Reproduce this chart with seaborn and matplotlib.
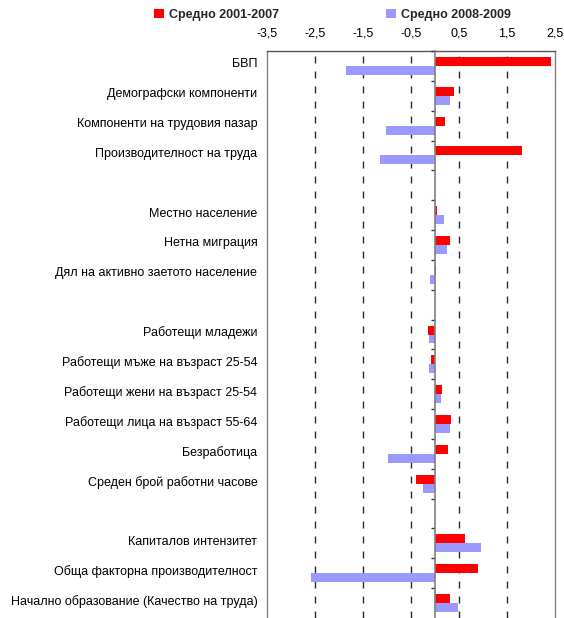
import matplotlib
matplotlib.use("Agg")
import matplotlib.pyplot as plt
import matplotlib.ticker as mticker
import matplotlib.transforms as mtransforms
from matplotlib.patches import Patch
import numpy as np
import pandas as pd
import seaborn as sns

sns.set_theme(style="white")
plt.rcParams["font.family"] = ["Liberation Sans", "DejaVu Sans"]

# Contributions to growth, average annual change (pp)
categories = [
    "БВП",
    "Демографски компоненти",
    "Компоненти на трудовия пазар",
    "Производителност на труда",
    " ",
    "Местно население",
    "Нетна миграция",
    "Дял на активно заетото население",
    "  ",
    "Работещи младежи",
    "Работещи мъже на възраст 25-54",
    "Работещи жени на възраст 25-54",
    "Работещи лица на възраст 55-64",
    "Безработица",
    "Среден брой работни часове",
    "   ",
    "Капиталов интензитет",
    "Обща факторна производителност",
    "Начално образование (Качество на труда)",
]
period_labels = ["Средно 2001-2007", "Средно 2008-2009"]
avg_2001_2007 = [2.41, 0.39, 0.20, 1.82, np.nan, 0.05, 0.32, 0.02, np.nan,
                 -0.14, -0.08, 0.15, 0.34, 0.28, -0.39, np.nan, 0.62, 0.89, 0.32]
avg_2008_2009 = [-1.85, 0.32, -1.02, -1.15, np.nan, 0.18, 0.24, -0.10, np.nan,
                 -0.12, -0.12, 0.13, 0.32, -0.98, -0.25, np.nan, 0.95, -2.58, 0.47]
x_ticks = [-3.5, -2.5, -1.5, -0.5, 0.5, 1.5, 2.5]
colors = ["#FF0000", "#9999FF"]

df = pd.DataFrame({
    "category": categories * 2,
    "period": [period_labels[0]] * len(categories) + [period_labels[1]] * len(categories),
    "value": avg_2001_2007 + avg_2008_2009,
})

fig = plt.figure(figsize=(5.64, 6.18), dpi=100)
ax = fig.add_axes([267 / 564, 0.0, (555 - 267) / 564, (618 - 51) / 618])

sns.barplot(data=df, y="category", x="value", hue="period", order=categories,
            hue_order=period_labels, palette=colors, orient="h", width=0.6,
            saturation=1, dodge=True, legend=False, ax=ax, linewidth=0)

ax.set_xlim(-3.5, 2.5)
ax.set_ylim(len(categories) - 0.5, -0.5)
ax.xaxis.tick_top()
ax.set_xticks(x_ticks)
ax.xaxis.set_major_formatter(mticker.FuncFormatter(lambda v, p: f"{v:.1f}".replace(".", ",")))
ax.tick_params(axis="x", length=0, pad=8, labelsize=9, colors="black")
ax.tick_params(axis="y", length=0, pad=7, labelsize=9, colors="black")
ax.set_xlabel("")
ax.set_ylabel("")

# Category labels sit slightly above the bar-group centres
lift = mtransforms.ScaledTranslation(0, 3 / 100, fig.dpi_scale_trans)
for lbl in ax.get_yticklabels():
    lbl.set_transform(lbl.get_transform() + lift)

for v in x_ticks[1:-1]:
    ax.axvline(v, color="#2a2a2a", linestyle=(0, (5.0, 5.8)), linewidth=1.0, zorder=0)

for side in ["top", "left", "right"]:
    ax.spines[side].set_color("#808080")
    ax.spines[side].set_linewidth(1.0)
ax.spines["top"].set_color("#555555")
ax.spines["bottom"].set_visible(False)

# Zero axis with category separators
ax2 = ax.twinx()
ax2.set_ylim(ax.get_ylim())
ax2.yaxis.tick_left()
ax2.spines["left"].set_position(("data", 0))
ax2.spines["left"].set_color("#808080")
ax2.spines["left"].set_linewidth(1.2)
for side in ["top", "right", "bottom"]:
    ax2.spines[side].set_visible(False)
ax2.set_yticks(np.arange(len(categories)) - 0.5)
ax2.set_yticklabels([])
ax2.tick_params(axis="y", length=3, width=1, color="#333333", direction="out")
ax2.grid(False)

handles = [Patch(facecolor=c, edgecolor="none") for c in colors]
fig.legend(handles, period_labels, loc="upper left", bbox_to_anchor=(145 / 564, 1.0),
           ncol=2, frameon=False, prop={"weight": "bold", "size": 9},
           handlelength=0.8, handleheight=0.8, handletextpad=0.4, columnspacing=8.6,
           borderaxespad=0.3)

fig.savefig("out.png", dpi=100)
